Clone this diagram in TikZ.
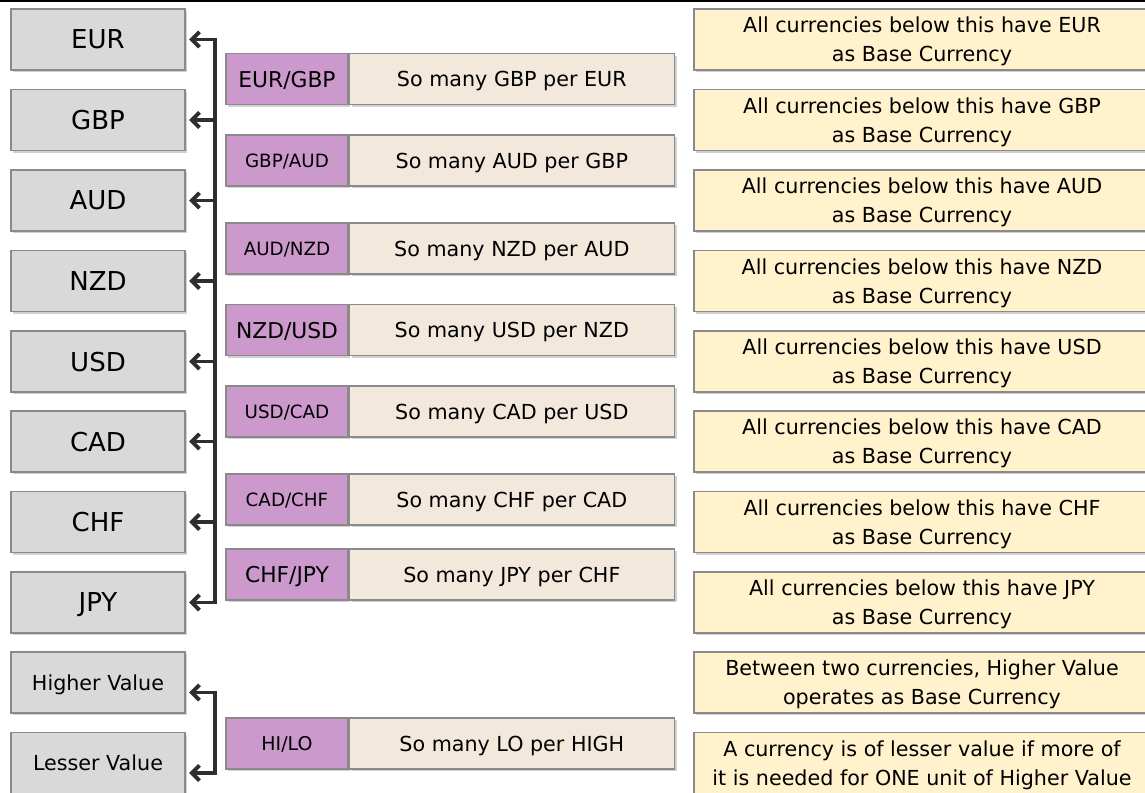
\documentclass[tikz,border=0pt]{standalone}
\usepackage{fontspec}
\setmainfont{DejaVu Sans}
\usepackage{xcolor}
\usetikzlibrary{arrows.meta,positioning,shadows}

\definecolor{curfill}{HTML}{D9D9D9}
\definecolor{pairfill}{HTML}{CC99CC}
\definecolor{ratefill}{HTML}{F2E8DC}
\definecolor{notefill}{HTML}{FFF2CC}
\definecolor{edgegray}{HTML}{8A8A8A}
\definecolor{arrowgray}{HTML}{2E2E2E}

\begin{document}
\begin{tikzpicture}[x=0.025cm,y=-0.025cm,
  every node/.style={font=\fontsize{14.7}{20.6}\selectfont,inner sep=0pt,text depth=0pt},
  base/.style={draw=edgegray,line width=0.9pt,
    drop shadow={shadow xshift=0.6mm,shadow yshift=-0.6mm,opacity=0.18,fill=black}},
  cur/.style={base,fill=curfill,minimum width=4.35cm,minimum height=1.525cm},
  big/.style={font=\fontsize{18.5}{22}\selectfont},
  pair/.style={base,fill=pairfill,minimum width=3.05cm,minimum height=1.275cm},
  rate/.style={base,fill=ratefill,minimum width=8.125cm,minimum height=1.275cm,right=0pt of #1},
  note/.style={base,fill=notefill,minimum width=11.4cm,minimum height=1.525cm,align=center},
  arr/.style={-{Straight Barb[length=1.9mm,width=3.8mm]},line width=2.7pt,draw=arrowgray,
    shorten >=2.5pt},
  arrboth/.style={arr,{Straight Barb[length=1.9mm,width=3.8mm]}-{Straight Barb[length=1.9mm,width=3.8mm]},
    shorten <=2.5pt}]
  \useasboundingbox (0,0) rectangle (1145,792);
  \draw[line width=1.4pt] (0,1) -- (1145,1);

  % currencies, ordered by value
  \node[cur,big] (eur) at (98,39.5) {EUR};
  \node[cur,big] (gbp) at (98,120) {GBP};
  \node[cur,big] (aud) at (98,200.5) {AUD};
  \node[cur,big] (nzd) at (98,281) {NZD};
  \node[cur,big] (usd) at (98,361.5) {USD};
  \node[cur,big] (cad) at (98,441.5) {CAD};
  \node[cur,big] (chf) at (98,522) {CHF};
  \node[cur,big] (jpy) at (98,602.5) {JPY};
  \node[cur] (hv) at (98,682.5) {Higher Value};
  \node[cur] (lv) at (98,763) {Lesser Value};

  % quoted pairs
  \node[pair,font=\fontsize{15.5}{18}\selectfont] (p1) at (287,79) {EUR/GBP};
  \node[rate=p1] (r1) {So many GBP per EUR};
  \node[pair,font=\fontsize{13}{16}\selectfont] (p2) at (287,160.5) {GBP/AUD};
  \node[rate=p2] (r2) {So many AUD per GBP};
  \node[pair,font=\fontsize{13}{16}\selectfont] (p3) at (287,248.5) {AUD/NZD};
  \node[rate=p3] (r3) {So many NZD per AUD};
  \node[pair,font=\fontsize{15.5}{18}\selectfont] (p4) at (287,330) {NZD/USD};
  \node[rate=p4] (r4) {So many USD per NZD};
  \node[pair,font=\fontsize{13}{16}\selectfont] (p5) at (287,411.5) {USD/CAD};
  \node[rate=p5] (r5) {So many CAD per USD};
  \node[pair,font=\fontsize{13}{16}\selectfont] (p6) at (287,499.5) {CAD/CHF};
  \node[rate=p6] (r6) {So many CHF per CAD};
  \node[pair,font=\fontsize{15.5}{18}\selectfont] (p7) at (287,574.5) {CHF/JPY};
  \node[rate=p7] (r7) {So many JPY per CHF};
  \node[pair,font=\fontsize{13.5}{16}\selectfont] (p8) at (287,743.5) {HI/LO};
  \node[rate=p8] (r8) {So many LO per HIGH};

  % notes
  \node[note] (n1) at (922,39.5) {All currencies below this have EUR\\as Base Currency};
  \node[note] (n2) at (922,120) {All currencies below this have GBP\\as Base Currency};
  \node[note] (n3) at (922,200.5) {All currencies below this have AUD\\as Base Currency};
  \node[note] (n4) at (922,281) {All currencies below this have NZD\\as Base Currency};
  \node[note] (n5) at (922,361.5) {All currencies below this have USD\\as Base Currency};
  \node[note] (n6) at (922,441.5) {All currencies below this have CAD\\as Base Currency};
  \node[note] (n7) at (922,522) {All currencies below this have CHF\\as Base Currency};
  \node[note] (n8) at (922,602.5) {All currencies below this have JPY\\as Base Currency};
  \node[note] (n9) at (922,682.5) {Between two currencies, Higher Value\\operates as Base Currency};
  \node[note] (n10) at (922,763) {A currency is of lesser value if more of\\it is needed for ONE unit of Higher Value};

  % bracket
  \coordinate (trunk) at (215,0);
  \draw[arrboth] (eur.east) -- (eur.east -| trunk) -- (jpy.east -| trunk) -- (jpy.east);
  \draw[arr] (gbp.east -| trunk) -- (gbp.east);
  \draw[arr] (aud.east -| trunk) -- (aud.east);
  \draw[arr] (nzd.east -| trunk) -- (nzd.east);
  \draw[arr] (usd.east -| trunk) -- (usd.east);
  \draw[arr] (cad.east -| trunk) -- (cad.east);
  \draw[arr] (chf.east -| trunk) -- (chf.east);

  \coordinate (hvin) at ([yshift=-2.5mm]hv.east);
  \coordinate (lvin) at ([yshift=-2.5mm]lv.east);
  \draw[arrboth] (hvin) -- (hvin -| trunk) -- (lvin -| trunk) -- (lvin);
\end{tikzpicture}
\end{document}
